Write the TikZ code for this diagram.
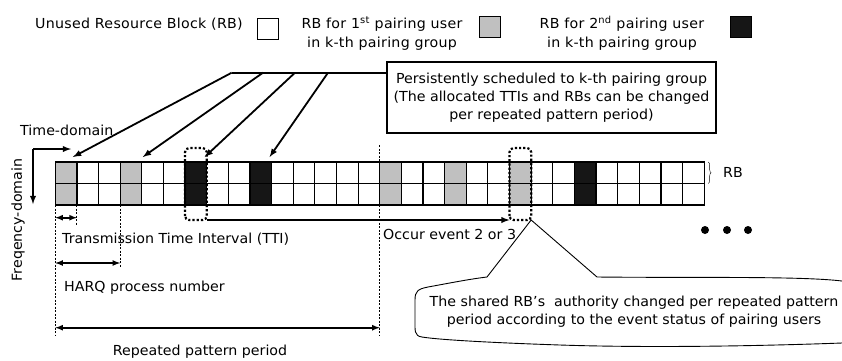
\documentclass[tikz,border=0pt]{standalone}
\usepackage{fontspec}
\setmainfont[FakeStretch=1.03]{DejaVu Sans}
\newfontfamily\legendfont[FakeStretch=1.03,LetterSpace=2]{DejaVu Sans}
\usetikzlibrary{calc,arrows,decorations.pathreplacing}
\definecolor{rbgray}{RGB}{192,192,192}
\definecolor{rbblack}{RGB}{22,22,22}
\tikzset{
  rbcell/.style={draw=black,line width=1.2pt,minimum width=21.63pt,minimum height=21.5pt,inner sep=0pt,outer sep=0pt},
  keycell/.style={draw=black,line width=1pt,minimum width=21pt,minimum height=21pt,inner sep=0pt},
  txt/.style={inner sep=0pt,font=\fontsize{13.8}{18}\selectfont},
  keytxt/.style={txt,font=\fontsize{13.8}{19}\selectfont\legendfont},
  thick arrow/.style={-latex,line width=1.8pt},
  dimarrow/.style={latex-latex,line width=1.6pt},
  guide/.style={dash pattern=on 2pt off 1.5pt,line width=0.9pt},
  dotbox/.style={dotted,line width=2.2pt,rounded corners=4pt}
}
\begin{document}
\begin{tikzpicture}[x=1pt,y=-1pt]
\useasboundingbox (0,0) rectangle (842,360);
% legend
\node[keytxt,anchor=west] (unused) at (35,24) {Unused Resource Block (RB)};
\node[keycell] (kunused) at (267.5,29) {};
\node[keytxt,align=center] (first) at (382,33.5) {RB for 1\textsuperscript{st} pairing user\\in k-th pairing group};
\node[keycell,fill=rbgray] (kfirst) at (490,27) {};
\node[keytxt,align=center] (second) at (622,33.5) {RB for 2\textsuperscript{nd} pairing user\\in k-th pairing group};
\node[keycell,fill=rbblack] (ksecond) at (741,27) {};
% resource blocks
\foreach \i in {0,3,15,18,21} \fill[rbgray] ({55.3+\i*21.63},162) rectangle +(21.63,43);
\foreach \i in {6,9,24} \fill[rbblack] ({55.3+\i*21.63},162) rectangle +(21.63,43);
\foreach \i in {0,...,29} {
  \node[rbcell] (t\i) at ({66.1+\i*21.63},172.75) {};
  \node[rbcell] (b\i) at ({66.1+\i*21.63},194.25) {};
}
\draw[decorate,decoration={brace,amplitude=3pt}] ([xshift=4pt]t29.north east) -- ([xshift=4pt]t29.south east);
\node[txt,anchor=west] (rb) at (723,172) {RB};
% shared TTIs
\draw[dotbox] ([yshift=-15pt]b6.south west) -- ([yshift=14pt]t6.north west) -- ([yshift=14pt]t6.north east) -- ([yshift=-15pt]b6.south east) -- cycle;
\draw[dotbox] ([yshift=-15pt]b21.south west) -- ([yshift=14pt]t21.north west) -- ([yshift=14pt]t21.north east) -- ([yshift=-15pt]b21.south east) -- cycle;
% persistent scheduling
\node[txt,draw,line width=2pt,align=center,minimum width=329pt,minimum height=71pt] (persist) at (551.5,97.5) {Persistently scheduled to k-th pairing group\\(The allocated TTIs and RBs can be changed\\per repeated pattern period)};
\coordinate (fan0) at (231.7,72.7);
\coordinate (fan1) at (263,72.7);
\coordinate (fan2) at (295,72.7);
\coordinate (fan3) at (328,72.7);
\draw[line width=2pt] (fan0) -- (persist.west |- fan0);
\draw[thick arrow] (fan0) -- ([shift={(-4pt,5pt)}]t0.north east);
\draw[thick arrow] (fan1) -- ([shift={(1pt,5pt)}]t3.north east);
\draw[thick arrow] (fan2) -- ([shift={(-2pt,5pt)}]t6.north east);
\draw[thick arrow] (fan3) -- ([shift={(-2pt,5pt)}]t9.north east);
% event
\coordinate (ev1) at ([yshift=-15pt]b6.south east);
\coordinate (ev2) at ([yshift=-15pt]b21.south west);
\draw[thick arrow] (ev1) -- (ev2);
\node[txt,anchor=west] (occur) at (383,234) {Occur event 2 or 3};
% domains
\coordinate (axo) at (33,149);
\coordinate (taxis) at (71,149);
\coordinate (faxis) at (33,204);
\draw[thick arrow] (axo) -- (taxis);
\draw[thick arrow] (axo) -- (faxis);
\node[txt,anchor=west] (time) at (20,130) {Time-domain};
\node[txt,rotate=90] (freq) at (18,220) {Freqency-domain};
% intervals
\draw[guide] (b0.south west) -- ([yshift=-130pt]b0.south west);
\draw[guide] (b1.south west) -- ([yshift=-20pt]b1.south west);
\draw[guide] (b3.south west) -- ([yshift=-63pt]b3.south west);
\draw[guide] ([yshift=17pt]t15.north west) -- (t15.north west);
\draw[guide] (b15.south west) -- ([yshift=-130pt]b15.south west);
\coordinate (tti0) at ([yshift=-12.7pt]b0.south west);
\coordinate (tti1) at ([yshift=-12.7pt]b1.south west);
\coordinate (harq0) at ([yshift=-58pt]b0.south west);
\coordinate (harq1) at ([yshift=-58pt]b3.south west);
\coordinate (rep0) at ([yshift=-122.7pt]b0.south west);
\coordinate (rep1) at ([yshift=-122.7pt]b15.south west);
\draw[dimarrow] (tti0) -- (tti1);
\draw[dimarrow] (harq0) -- (harq1);
\draw[dimarrow] (rep0) -- (rep1);
\node[txt,anchor=west] (tti) at (62,239) {Transmission Time Interval (TTI)};
\node[txt,anchor=west] (harq) at (64,288) {HARQ process number};
\node[txt] (rep) at (200,352) {Repeated pattern period};
% more TTIs
\foreach \x in {705,727,748} \fill (\x,230) circle (4pt);
% authority callout
\coordinate (tip) at ([yshift=-15pt]b21.south east);
\draw[line width=0.9pt] (487,277) -- (tip) -- (597,277) .. controls (700,278) and (800,276) .. (842,281) .. controls (852,283) and (852,340) .. (842,343) .. controls (760,346) and (650,348) .. (560,345) .. controls (500,343) and (440,340) .. (422,337) .. controls (414,336) and (415,330) .. (415,320) -- (415,300) .. controls (415,291) and (418,289) .. (428,287) .. controls (450,283) and (470,279) .. cycle;
\node[txt,align=center] (shared) at (634,312) {The shared RB's~ authority changed per repeated pattern\\period according to the event status of pairing users};
\end{tikzpicture}
\end{document}
